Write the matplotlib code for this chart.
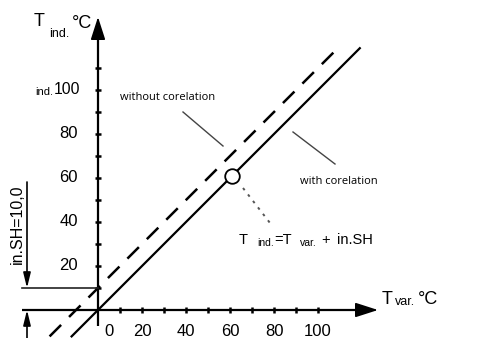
import matplotlib
matplotlib.use("Agg")
import matplotlib.pyplot as plt
import numpy as np

# ---- data ----
x_without = [-22, 110]          # dashed line, T_ind = T_var + SH
shift_sh = 10.0
x_with = [-12, 119]             # solid line, T_ind = T_var
point_x = [61]
point_y = [61]
x_ticks = [10, 20, 30, 40, 50, 60, 70, 80, 90, 100]
y_ticks = [10, 20, 30, 40, 50, 60, 70, 80, 90, 100, 110]
x_tick_labels = ["0", "20", "40", "60", "80", "100"]
x_tick_label_pos = [5, 20, 40, 60, 80, 100]
y_tick_labels = ["20", "40", "60", "80"]
y_tick_label_pos = [20, 40, 60, 80]

W, H = 480, 338
X0, Y0, S = 98, 310, 2.2

def P(px, py):
    """pixel (from top-left) -> data coordinates"""
    return ((px - X0) / S, (Y0 - py) / S)

fig = plt.figure(figsize=(W / 100, H / 100), dpi=100)
ax = fig.add_axes([0, 0, 1, 1])
ax.set_xlim(-X0 / S, (W - X0) / S)
ax.set_ylim((Y0 - H) / S, Y0 / S)
ax.axis("off")

font = ["Liberation Sans", "DejaVu Sans"]
font2 = ["Open Sans", "DejaVu Sans"]

# axes with arrows
xa0 = P(22, 0)[0]; xa1 = P(378, 0)[0]
ya0 = P(0, 326)[1]; ya1 = P(0, 17)[1]
ax.plot([xa0, P(355, 0)[0]], [0, 0], color="black", lw=1.6, solid_capstyle="butt")
ax.plot([0, 0], [ya0, P(0, 38)[1]], color="black", lw=1.6, solid_capstyle="butt")
ax.annotate("", xy=(xa1, 0), xytext=(P(350, 0)[0], 0),
            arrowprops=dict(arrowstyle="-|>,head_length=1.4,head_width=0.45",
                            color="black", lw=1.2, shrinkA=0, shrinkB=0))
ax.annotate("", xy=(0, ya1), xytext=(0, P(0, 45)[1]),
            arrowprops=dict(arrowstyle="-|>,head_length=1.4,head_width=0.45",
                            color="black", lw=1.2, shrinkA=0, shrinkB=0))

# ticks
tl = 3.0 / S
for t in x_ticks:
    ax.plot([t, t], [-tl, tl], color="black", lw=1.8, solid_capstyle="butt")
for t in y_ticks:
    ax.plot([-tl, tl], [t, t], color="black", lw=1.8, solid_capstyle="butt")

# tick labels
for lab, pos in zip(x_tick_labels, x_tick_label_pos):
    ax.text(pos, P(0, 331)[1], lab, ha="center", va="center", fontsize=12, family=font)
for lab, pos in zip(y_tick_labels, y_tick_label_pos):
    ax.text(P(78, 0)[0], pos, lab, ha="right", va="center", fontsize=12, family=font)
ax.text(P(80, 0)[0], 100, "100", ha="right", va="center", fontsize=11.3, family=font)
ax.text(P(53, 0)[0], 100 - 0.8, "ind.", ha="right", va="center", fontsize=8, family=font)

# lines
xw = np.array(x_with, dtype=float)
ax.plot(xw, xw, color="black", lw=1.6)
xo = np.array(x_without, dtype=float)
ax.plot(xo, xo + shift_sh, color="black", lw=1.8, dashes=(6.5, 4.5))

# point
ax.plot(point_x, point_y, marker="o", ms=10.5, mfc="white", mec="black", mew=1.3, ls="none", zorder=5)

# dotted leader from point to formula
ax.plot([P(243, 0)[0], P(270, 0)[0]], [P(0, 188)[1], P(0, 223)[1]],
        color="#555555", lw=1.4, ls=(0, (1.4, 2.8)))

# leader lines
ax.plot([P(183, 0)[0], P(223, 0)[0]], [P(0, 112)[1], P(0, 146)[1]], color="#444444", lw=1.0)
ax.plot([P(293, 0)[0], P(335, 0)[0]], [P(0, 132)[1], P(0, 164)[1]], color="#444444", lw=1.0)

ax.text(*P(120, 98), "without corelation", ha="left", va="center", fontsize=8, family=font2)
ax.text(*P(300, 182), "with corelation", ha="left", va="center", fontsize=8, family=font2)

# formula
ax.text(*P(239, 240), "T", ha="left", va="center", fontsize=10.5, family=font)
ax.text(*P(257, 243), "ind.", ha="left", va="center", fontsize=7.5, family=font)
ax.text(*P(274, 240), "=T", ha="left", va="center", fontsize=10.5, family=font)
ax.text(*P(300, 243), "var.", ha="left", va="center", fontsize=7.5, family=font)
ax.text(*P(321, 240), "+", ha="left", va="center", fontsize=10.5, family=font)
ax.text(*P(337, 240), "in.SH", ha="left", va="center", fontsize=10.5, family=font)

# axis titles
ax.text(*P(34, 22), "T", ha="left", va="center", fontsize=13, family=font)
ax.text(*P(49, 34), "ind.", ha="left", va="center", fontsize=9, family=font)
ax.text(*P(72, 23), "°C", ha="left", va="center", fontsize=13, family=font)

ax.text(*P(382, 300), "T", ha="left", va="center", fontsize=13, family=font)
ax.text(*P(395, 302), "var.", ha="left", va="center", fontsize=9, family=font)
ax.text(*P(418, 300), "°C", ha="left", va="center", fontsize=13, family=font)

# in.SH dimension
ax.plot([P(22, 0)[0], 0], [shift_sh, shift_sh], color="#222222", lw=1.2)
xd = P(27, 0)[0]
ax.annotate("", xy=(xd, shift_sh), xytext=(xd, P(0, 182)[1]),
            arrowprops=dict(arrowstyle="-|>,head_length=0.9,head_width=0.22",
                            color="black", lw=1.2, shrinkA=0, shrinkB=0))
ax.annotate("", xy=(xd, 0), xytext=(xd, P(0, 338)[1]),
            arrowprops=dict(arrowstyle="-|>,head_length=0.9,head_width=0.22",
                            color="black", lw=1.2, shrinkA=0, shrinkB=0))
ax.text(*P(17, 224), "in.SH=10,0", rotation=90, ha="center", va="center",
        fontsize=11.5, family=font)

fig.savefig("out.png", dpi=100)
